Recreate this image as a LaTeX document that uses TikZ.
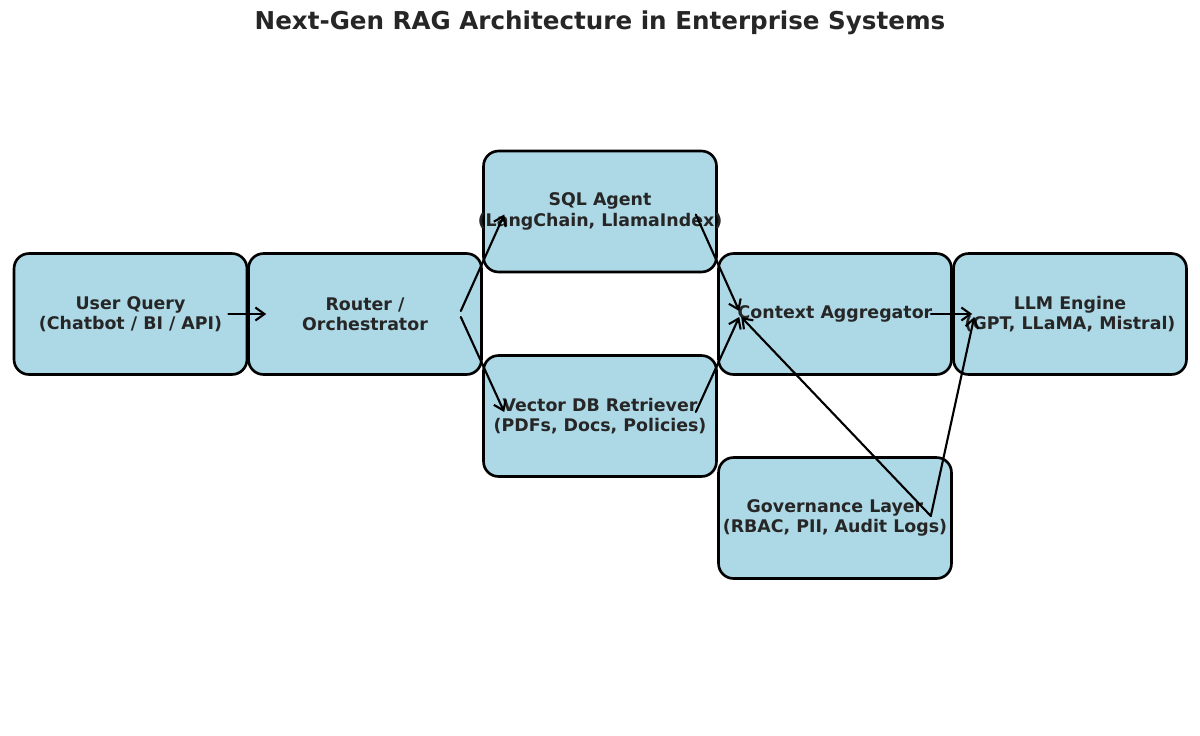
\documentclass[tikz,border=0pt]{standalone}
\usepackage{fontspec}
\setmainfont{DejaVu Sans}
\usepackage{tikz}
\usetikzlibrary{arrows.meta}
\usepackage{xcolor}
\definecolor{boxblue}{HTML}{ADD8E6}
\definecolor{inkgray}{HTML}{262626}

\begin{document}
\begin{tikzpicture}[x=0.02cm,y=-0.02cm,>={Straight Barb[length=1.8mm,width=2.6mm]},line cap=round,
  block/.style={draw=black,line width=1.5pt,fill=boxblue,rounded corners=0.3cm,
    minimum width=4.66cm,minimum height=2.42cm,inner sep=0pt},
  blocktext/.style={inner sep=0pt,align=center,text=inkgray,font=\bfseries\fontsize{9.9}{11.5}\selectfont},
  flow/.style={->,line width=1.2pt}]
\useasboundingbox (0,0) rectangle (1200,735);
\node[text=inkgray,font=\bfseries\fontsize{14}{16}\selectfont] (title) at (600,23) {Next-Gen RAG Architecture in Enterprise Systems};
\node[block,label={[blocktext]center:{User Query\\(Chatbot / BI / API)}}] (user) at (130.5,314) {};
\node[block,label={[blocktext]center:{Router /\\Orchestrator}}] (router) at (365,314) {};
\node[block,label={[blocktext]center:{SQL Agent\\(LangChain, LlamaIndex)}}] (sql) at (600,211.5) {};
\node[block,label={[blocktext]center:{Vector DB Retriever\\(PDFs, Docs, Policies)}}] (vector) at (600,416) {};
\node[block,label={[blocktext]center:{Context Aggregator}}] (context) at (835,314) {};
\node[block,label={[blocktext]center:{LLM Engine\\(GPT, LLaMA, Mistral)}}] (llm) at (1070,314) {};
\node[block,label={[blocktext]center:{Governance Layer\\(RBAC, PII, Audit Logs)}}] (gov) at (835,518) {};
\draw[flow] ([shift={(-20,0)}]user.east) -- ([shift={(19,0)}]router.west);
\draw[flow] ([shift={(-22,-3)}]router.east) -- ([shift={(22,3)}]sql.west);
\draw[flow] ([shift={(-22,3)}]router.east) -- ([shift={(22,-4)}]vector.west);
\draw[flow] ([shift={(-22,3)}]sql.east) -- ([shift={(22,-3)}]context.west);
\draw[flow] ([shift={(-22,-4)}]vector.east) -- ([shift={(22,3)}]context.west);
\draw[flow] ([shift={(-22,0)}]context.east) -- ([shift={(20,0)}]llm.west);
\draw[flow] ([shift={(-22,-2)}]gov.east) -- ([shift={(24,3)}]context.west);
\draw[flow] ([shift={(-22,-2)}]gov.east) -- ([shift={(22,3)}]llm.west);
\end{tikzpicture}
\end{document}
